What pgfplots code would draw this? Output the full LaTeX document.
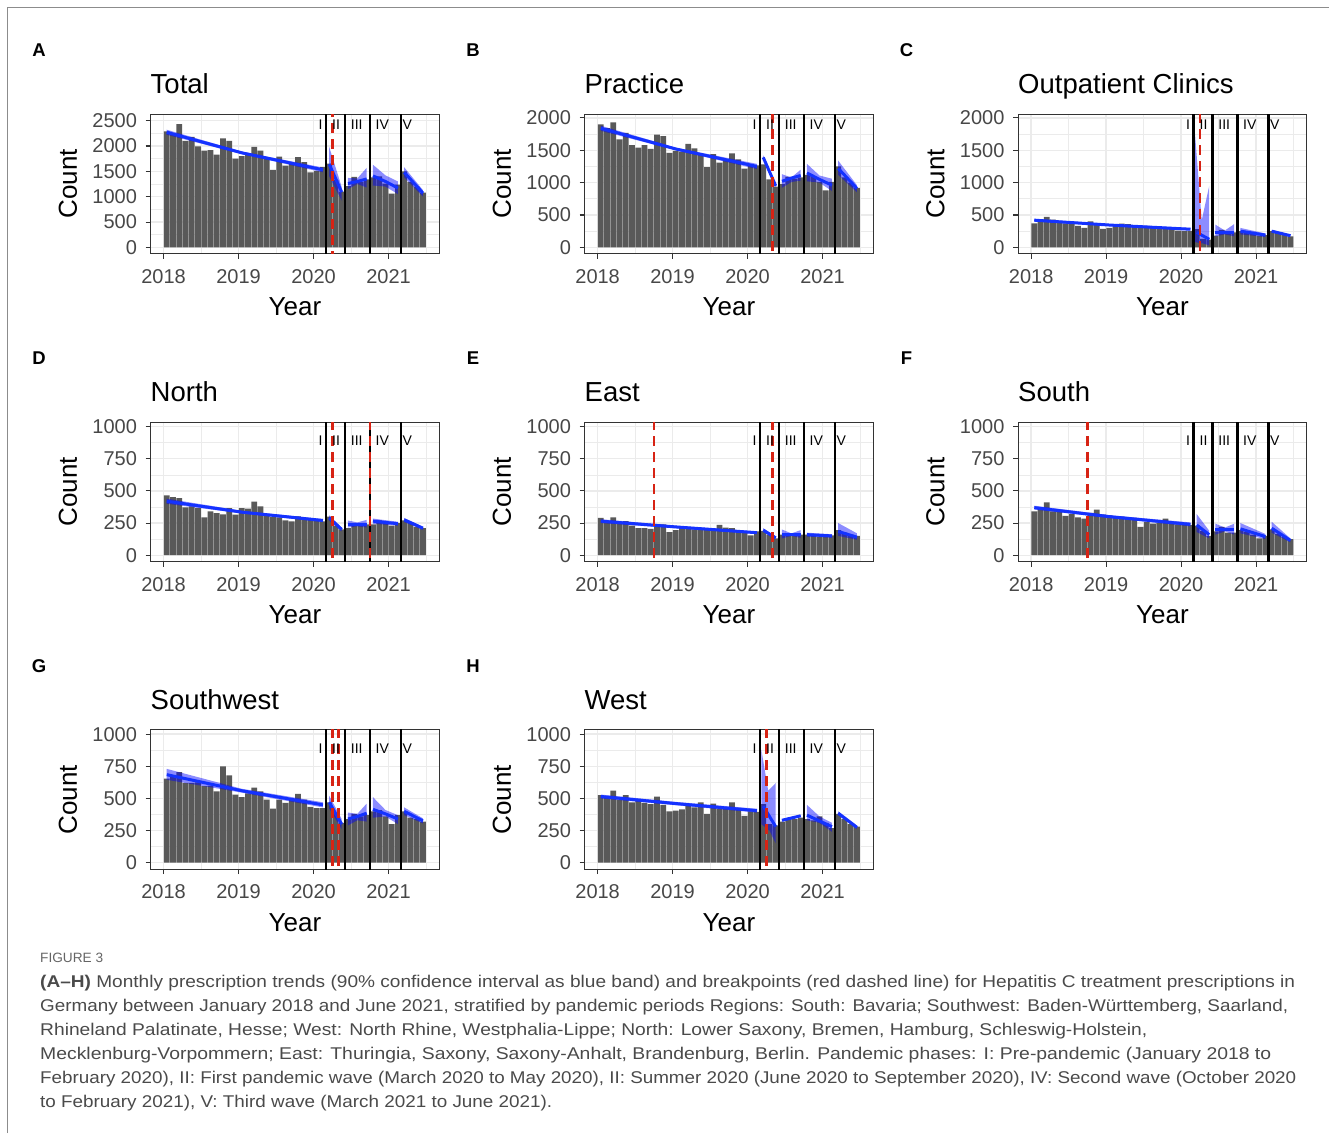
\documentclass[border=0pt]{standalone}
\usepackage{fontspec}
\setmainfont{Liberation Sans}
\usepackage{graphicx}
\usepackage{pgfplots}
\pgfplotsset{compat=1.18}
\usepackage{pgfplotstable}

\definecolor{hcbar}{HTML}{595959}
\definecolor{hcblue}{RGB}{20,50,255}
\definecolor{hcband}{RGB}{0,0,255}
\definecolor{hcred}{RGB}{215,35,20}
\definecolor{hcgrid}{HTML}{EBEBEB}
\definecolor{hccap}{HTML}{4A4A4A}

% monthly counts, m = 1 (Jan 2018) ... 42 (Jun 2021)
\pgfplotstableread{
m A B C D E F G H
1 2290 1900 370 465 290 340 655 525
2 2240 1840 400 452 265 365 680 510
3 2430 1930 470 444 295 410 705 560
4 2100 1670 430 372 255 340 620 490
5 2180 1770 385 380 265 335 620 525
6 1990 1580 370 367 230 305 625 470
7 1910 1540 360 295 210 320 595 480
8 1920 1580 330 341 210 295 600 465
9 1830 1520 300 328 205 285 555 455
10 2150 1740 400 318 220 330 750 515
11 2100 1720 350 367 240 355 680 450
12 1750 1460 285 315 180 315 530 400
13 1800 1490 300 367 195 310 510 405
14 1840 1480 330 362 210 300 540 415
15 1980 1600 365 416 210 300 585 440
16 1910 1530 360 380 200 290 555 430
17 1780 1440 320 307 195 290 490 470
18 1530 1240 300 297 200 220 420 380
19 1790 1440 330 295 205 260 490 460
20 1610 1310 300 271 235 245 465 420
21 1640 1360 305 264 215 250 490 420
22 1780 1450 310 302 210 285 535 470
23 1680 1360 290 284 190 255 490 420
24 1480 1215 260 276 185 240 435 365
25 1510 1255 250 269 155 240 425 400
26 1590 1265 255 264 185 235 425 395
27 1650 1280 280 300 190 230 470 455
28 1330 1050 130 230 160 190 380 300
29 1100 940 120 200 130 150 310 290
30 1210 980 180 210 160 185 340 320
31 1390 1090 270 250 150 220 380 340
32 1290 1060 220 240 160 175 360 340
33 1340 1080 230 240 160 175 370 350
34 1380 1120 250 240 160 195 400 340
35 1400 1100 230 270 150 180 410 330
36 1260 1010 220 260 145 160 360 360
37 1060 880 180 230 150 130 300 310
38 1240 1010 190 250 155 150 370 270
39 1500 1250 250 270 195 200 400 380
40 1290 1080 220 250 175 165 350 340
41 1200 1000 200 220 160 140 340 300
42 1080 920 170 210 150 125 320 280
}\counts

\pgfplotsset{
  hcpanel/.style={
    scale only axis, width=288.7pt, height=139.5pt, anchor=south west,
    xmin=-1.6, xmax=44.6,
    xtick={0.5,12.5,24.5,36.5}, xticklabels={2018,2019,2020,2021},
    minor xtick={6.5,18.5,30.5,42.5},
    grid=both,
    major grid style={hcgrid, line width=1.4pt},
    minor grid style={hcgrid, line width=0.7pt},
    tick align=outside, xtick pos=bottom, ytick pos=left,
    major tick length=5pt, minor tick length=0pt,
    tick style={black!80, line width=1.1pt},
    axis line style={black!80, line width=1pt},
    tick label style={font=\fontsize{20}{24}\selectfont, text=black!72},
    xticklabel style={yshift=-7pt},
    yticklabel style={xshift=-5pt},
    /pgf/number format/assume math mode=true,
    /pgf/number format/1000 sep={},
  },
  big/.style={ymin=-120, ymax=2630, ytick={0,500,...,2500}, minor ytick={250,750,...,2250}},
  mid/.style={ymin=-95, ymax=2060, ytick={0,500,...,2000}, minor ytick={250,750,...,1750}},
  small/.style={ymin=-49, ymax=1036, ytick={0,250,...,1000}, minor ytick={125,375,...,875}},
  hcbars/.style={ybar, bar width=0.9, bar shift=0pt, fill=hcbar, draw=none},
  hcbandst/.style={draw=none, fill=hcband, fill opacity=0.45},
  hcline/.style={hcblue, line width=3pt},
}

\newcommand{\vlines}{%
  \draw[black, line width=2.4pt] (axis cs:26.5,-5000) -- (axis cs:26.5,5000);
  \draw[black, line width=2.4pt] (axis cs:29.5,-5000) -- (axis cs:29.5,5000);
  \draw[black, line width=2.4pt] (axis cs:33.5,-5000) -- (axis cs:33.5,5000);
  \draw[black, line width=2.4pt] (axis cs:38.5,-5000) -- (axis cs:38.5,5000);}
\newcommand{\brk}[1]{\draw[hcred, line width=2.4pt, dash pattern=on 10pt off 6pt] (axis cs:#1,-5000) -- (axis cs:#1,5000);}
\newcommand{\plabels}[1]{%
  \node[font=\fontsize{14}{14}\selectfont] at ({axis cs:25.6,0} |- {rel axis cs:0,#1}) {I};
  \node[font=\fontsize{14}{14}\selectfont] at ({axis cs:28.1,0} |- {rel axis cs:0,#1}) {II};
  \node[font=\fontsize{14}{14}\selectfont] at ({axis cs:31.4,0} |- {rel axis cs:0,#1}) {III};
  \node[font=\fontsize{14}{14}\selectfont] at ({axis cs:35.5,0} |- {rel axis cs:0,#1}) {IV};
  \node[font=\fontsize{14}{14}\selectfont] at ({axis cs:39.5,0} |- {rel axis cs:0,#1}) {V};}
% labels around a panel: #1 box left, #2 row offset, #3 letter, #4 title
\newcommand{\deco}[4]{%
  \node[font=\bfseries\fontsize{18.5}{18.5}\selectfont] at ({#1pt-111.5pt},{-50pt-#2pt}) {#3};
  \node[anchor=base west, inner sep=0pt, font=\fontsize{27.5}{30}\selectfont] at ({#1pt},{-93pt-#2pt}) {#4};
  \node[rotate=90, inner sep=0pt, font=\fontsize{26}{28}\selectfont] at ({#1pt-82.5pt},{-183.7pt-#2pt}) {Count};
  \node[anchor=base, inner sep=0pt, font=\fontsize{26}{28}\selectfont] at ({#1pt+144.4pt},{-315pt-#2pt}) {Year};}
\newcommand{\capline}[3]{\node[anchor=base west, inner sep=0pt, text=hccap, font=\fontsize{17}{17}\selectfont] at (40pt,-#1pt) {\resizebox{#2pt}{\height}{#3}};}

\begin{document}
\begin{tikzpicture}
\path[use as bounding box] (0,0) rectangle (1329pt,-1133pt);
\draw[black!45, line width=1.3pt] (7.7pt,-1133pt) -- (7.7pt,-7.3pt) -- (1329pt,-7.3pt);

% A Total
\begin{axis}[hcpanel, big, at={(150.5pt,-253.5pt)}]
\addplot[hcbars] table[x=m, y=A] {\counts};
\addplot[hcbandst] coordinates {(1,2320)(13,1890)(26,1575)(26,1480)(13,1840)(1,2220)};
\addplot[hcbandst] coordinates {(27,1980)(29,1190)(29,920)(27,1400)};
\addplot[hcbandst] coordinates {(30,1370)(31.5,1360)(33,1570)(33,1180)(31.5,1250)(30,1150)};
\addplot[hcbandst] coordinates {(34,1630)(36,1420)(38,1300)(38,1050)(36,1200)(34,1220)};
\addplot[hcbandst] coordinates {(39,1580)(42,1130)(42,1000)(39,1380)};
\addplot[hcline] coordinates {(1,2270)(13,1865)(26,1530)};
\addplot[hcline] coordinates {(27,1640)(29,1090)};
\addplot[hcline] coordinates {(30,1260)(31.5,1300)(33,1350)};
\addplot[hcline] coordinates {(34,1410)(36,1300)(38,1170)};
\addplot[hcline] coordinates {(39,1480)(42,1070)};
\vlines \brk{27.5} \plabels{0.92}
\end{axis}
\deco{150.5}{0}{A}{Total}

% B Practice
\begin{axis}[hcpanel, mid, at={(584.5pt,-253.5pt)}]
\addplot[hcbars] table[x=m, y=B] {\counts};
\addplot[hcbandst] coordinates {(1,1880)(13,1540)(26,1290)(26,1210)(13,1500)(1,1800)};
\addplot[hcbandst] coordinates {(27,1420)(29,975)(29,925)(27,1360)};
\addplot[hcbandst] coordinates {(30,1130)(31.5,1080)(33,1200)(33,1030)(31.5,1010)(30,920)};
\addplot[hcbandst] coordinates {(34,1290)(36,1110)(38,1060)(38,870)(36,1000)(34,1020)};
\addplot[hcbandst] coordinates {(39,1340)(42,960)(42,850)(39,1120)};
\addplot[hcline] coordinates {(1,1840)(13,1520)(26,1250)};
\addplot[hcline] coordinates {(27,1390)(29,950)};
\addplot[hcline] coordinates {(30,1020)(31.5,1070)(33,1110)};
\addplot[hcline] coordinates {(34,1150)(36,1050)(38,960)};
\addplot[hcline] coordinates {(39,1220)(42,910)};
\vlines \brk{28.5} \plabels{0.92}
\end{axis}
\deco{584.5}{0}{B}{Practice}

% C Outpatient Clinics
\begin{axis}[hcpanel, mid, at={(1018pt,-253.5pt)}]
\addplot[hcbars] table[x=m, y=C] {\counts};
\addplot[hcbandst] coordinates {(1,440)(13,360)(26,300)(26,260)(13,330)(1,400)};
\addplot[hcbandst] coordinates {(26.7,1780)(27.8,420)(29,950)(29,30)(28,60)(26.7,80)};
\addplot[hcbandst] coordinates {(30,350)(31.5,260)(33,360)(33,170)(31.5,200)(30,170)};
\addplot[hcbandst] coordinates {(34,300)(38,215)(38,160)(34,200)};
\addplot[hcbandst] coordinates {(39,270)(42,195)(42,165)(39,230)};
\addplot[hcline] coordinates {(1,420)(13,345)(26,280)};
\addplot[hcline] coordinates {(27,230)(29,125)};
\addplot[hcline] coordinates {(30,230)(33,230)};
\addplot[hcline] coordinates {(34,250)(38,190)};
\addplot[hcline] coordinates {(39,250)(42,180)};
\vlines \brk{27.5} \plabels{0.92}
\end{axis}
\deco{1018}{0}{C}{Outpatient Clinics}

% D North
\begin{axis}[hcpanel, small, at={(150.5pt,-561.5pt)}]
\addplot[hcbars] table[x=m, y=D] {\counts};
\addplot[hcbandst] coordinates {(1,440)(13,345)(26,282)(26,258)(13,325)(1,400)};
\addplot[hcbandst] coordinates {(27,310)(29,215)(29,185)(27,270)};
\addplot[hcbandst] coordinates {(30,270)(31.5,255)(33,275)(33,215)(31.5,225)(30,215)};
\addplot[hcbandst] coordinates {(34,285)(38,260)(38,230)(34,245)};
\addplot[hcbandst] coordinates {(39,290)(42,222)(42,198)(39,258)};
\addplot[hcline] coordinates {(1,420)(13,335)(26,270)};
\addplot[hcline] coordinates {(27,290)(29,200)};
\addplot[hcline] coordinates {(30,240)(33,240)};
\addplot[hcline] coordinates {(34,265)(38,245)};
\addplot[hcline] coordinates {(39,275)(42,210)};
\vlines \brk{27.5} \brk{33.5} \plabels{0.865}
\end{axis}
\deco{150.5}{308}{D}{North}

% E East
\begin{axis}[hcpanel, small, at={(584.5pt,-561.5pt)}]
\addplot[hcbars] table[x=m, y=E] {\counts};
\addplot[hcbandst] coordinates {(1,280)(13,230)(26,185)(26,165)(13,210)(1,250)};
\addplot[hcbandst] coordinates {(27,210)(29,145)(29,125)(27,180)};
\addplot[hcbandst] coordinates {(30,200)(31.5,170)(33,195)(33,135)(31.5,150)(30,130)};
\addplot[hcbandst] coordinates {(34,175)(38,163)(38,137)(34,145)};
\addplot[hcbandst] coordinates {(39,250)(42,170)(42,120)(39,150)};
\addplot[hcline] coordinates {(1,265)(13,220)(26,175)};
\addplot[hcline] coordinates {(27,195)(29,135)};
\addplot[hcline] coordinates {(30,160)(33,160)};
\addplot[hcline] coordinates {(34,160)(38,150)};
\addplot[hcline] coordinates {(39,185)(42,140)};
\vlines \brk{9.5} \brk{28.5} \plabels{0.865}
\end{axis}
\deco{584.5}{308}{E}{East}

% F South
\begin{axis}[hcpanel, small, at={(1018pt,-561.5pt)}]
\addplot[hcbars] table[x=m, y=F] {\counts};
\addplot[hcbandst] coordinates {(1,385)(13,312)(26,255)(26,225)(13,290)(1,355)};
\addplot[hcbandst] coordinates {(27,320)(29,190)(29,130)(27,180)};
\addplot[hcbandst] coordinates {(30,245)(31.5,215)(33,245)(33,160)(31.5,185)(30,160)};
\addplot[hcbandst] coordinates {(34,250)(38,165)(38,125)(34,170)};
\addplot[hcbandst] coordinates {(39,260)(42,130)(42,100)(39,175)};
\addplot[hcline] coordinates {(1,370)(13,300)(26,240)};
\addplot[hcline] coordinates {(27,235)(29,160)};
\addplot[hcline] coordinates {(30,200)(33,200)};
\addplot[hcline] coordinates {(34,205)(38,145)};
\addplot[hcline] coordinates {(39,210)(42,115)};
\vlines \brk{9.5} \plabels{0.865}
\end{axis}
\deco{1018}{308}{F}{South}

% G Southwest
\begin{axis}[hcpanel, small, at={(150.5pt,-869pt)}]
\addplot[hcbars] table[x=m, y=G] {\counts};
\addplot[hcbandst] coordinates {(1,730)(13,575)(26,470)(26,430)(13,545)(1,645)};
\addplot[hcbandst] coordinates {(27,520)(29,340)(29,260)(27,420)};
\addplot[hcbandst] coordinates {(30,390)(31.5,380)(33,460)(33,320)(31.5,330)(30,290)};
\addplot[hcbandst] coordinates {(34,510)(36,410)(38,370)(38,300)(36,360)(34,350)};
\addplot[hcbandst] coordinates {(39,430)(42,345)(42,305)(39,370)};
\addplot[hcline] coordinates {(1,685)(13,560)(26,450)};
\addplot[hcline] coordinates {(27,470)(29,300)};
\addplot[hcline] coordinates {(30,340)(31.5,360)(33,385)};
\addplot[hcline] coordinates {(34,415)(36,380)(38,340)};
\addplot[hcline] coordinates {(39,400)(42,325)};
\vlines \brk{27.5} \brk{28.5} \plabels{0.865}
\end{axis}
\deco{150.5}{616}{G}{Southwest}

% H West
\begin{axis}[hcpanel, small, at={(584.5pt,-869pt)}]
\addplot[hcbars] table[x=m, y=H] {\counts};
\addplot[hcbandst] coordinates {(1,530)(13,473)(26,420)(26,390)(13,447)(1,500)};
\addplot[hcbandst] coordinates {(26.7,880)(27.8,560)(29,620)(29,150)(28,250)(26.7,300)};
\addplot[hcbandst] coordinates {(30,340)(33,372)(33,358)(30,320)};
\addplot[hcbandst] coordinates {(34,450)(36,360)(38,310)(38,240)(36,310)(34,330)};
\addplot[hcbandst] coordinates {(39,400)(42,288)(42,262)(39,370)};
\addplot[hcline] coordinates {(1,515)(13,460)(26,405)};
\addplot[hcline] coordinates {(27,440)(29,280)};
\addplot[hcline] coordinates {(30,330)(33,365)};
\addplot[hcline] coordinates {(34,370)(36,325)(38,280)};
\addplot[hcline] coordinates {(39,385)(42,275)};
\vlines \brk{27.5} \plabels{0.865}
\end{axis}
\deco{584.5}{616}{H}{West}

% caption
\node[anchor=base west, inner sep=0pt, text=hccap!85, font=\fontsize{13.5}{14}\selectfont] at (40pt,-962pt) {\resizebox{63pt}{\height}{FIGURE 3}};
\capline{987}{1255}{\textbf{(A–H)} Monthly prescription trends (90\% confidence interval as blue band) and breakpoints (red dashed line) for Hepatitis C treatment prescriptions in}
\capline{1011}{1248}{Germany between January 2018 and June 2021, stratified by pandemic periods Regions: South: Bavaria; Southwest: Baden-Württemberg, Saarland,}
\capline{1035}{1107}{Rhineland Palatinate, Hesse; West: North Rhine, Westphalia-Lippe; North: Lower Saxony, Bremen, Hamburg, Schleswig-Holstein,}
\capline{1059}{1231}{Mecklenburg-Vorpommern; East: Thuringia, Saxony, Saxony-Anhalt, Brandenburg, Berlin. Pandemic phases: I: Pre-pandemic (January 2018 to}
\capline{1083}{1256}{February 2020), II: First pandemic wave (March 2020 to May 2020), II: Summer 2020 (June 2020 to September 2020), IV: Second wave (October 2020}
\capline{1107}{512}{to February 2021), V: Third wave (March 2021 to June 2021).}
\end{tikzpicture}
\end{document}
